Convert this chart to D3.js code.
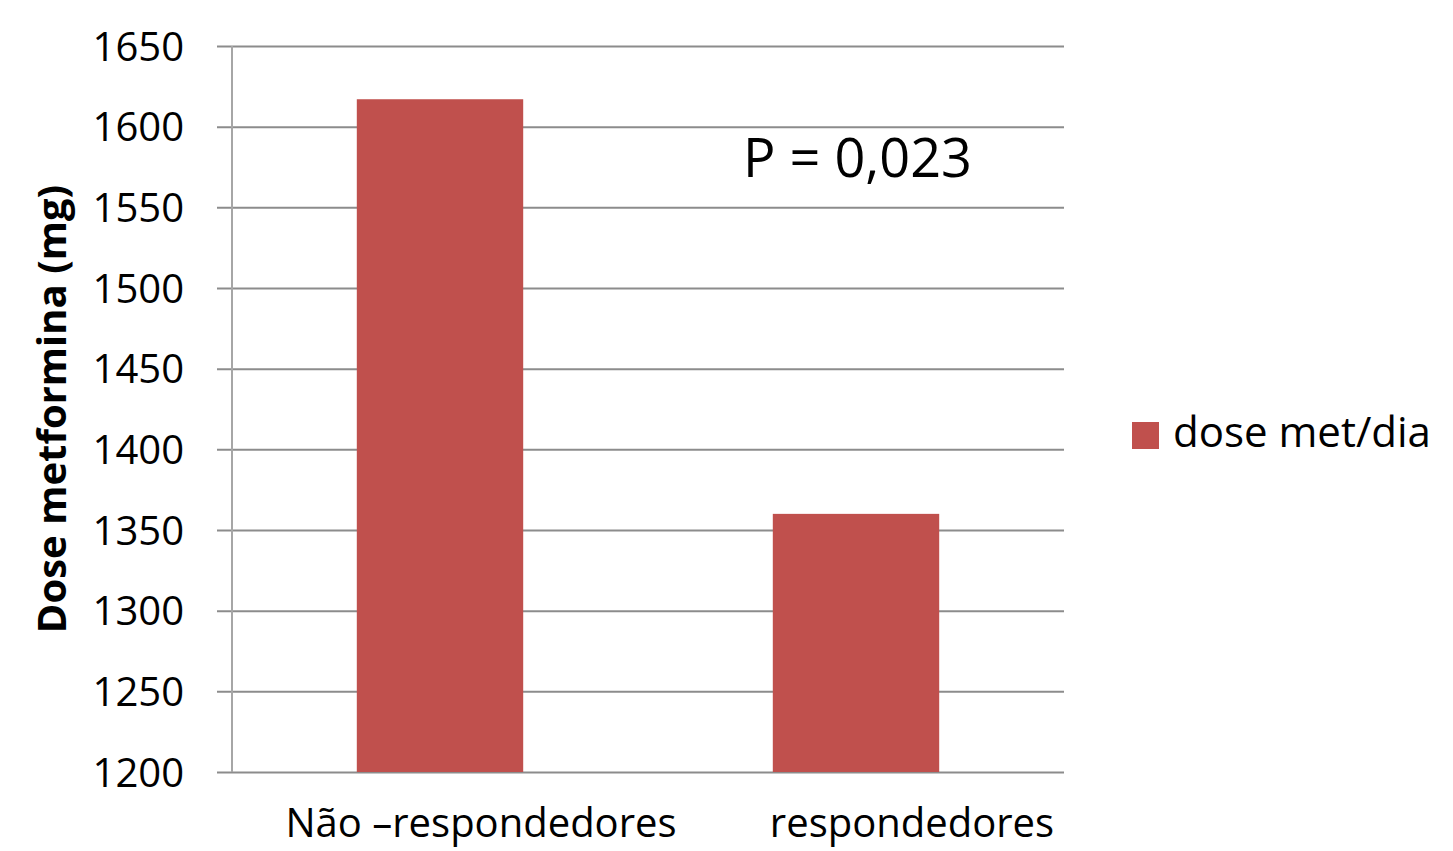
<!DOCTYPE html>
<html>
<head>
<meta charset="utf-8">
<script src="https://cdn.jsdelivr.net/npm/d3@7"></script>
<style>
  html, body { margin: 0; padding: 0; background: #fff; }
  svg { display: block; }
  text { font-family: "Open Sans", "Liberation Sans", sans-serif; fill: #000; }
</style>
</head>
<body>
<svg id="chart" width="1453" height="851"></svg>
<script>
// Daily metformin dose by response group
const categories = ["Não –respondedores", "respondedores"];
const doseValues = [1617, 1360];
const seriesName = "dose met/dia";
const yTicks = [1200, 1250, 1300, 1350, 1400, 1450, 1500, 1550, 1600, 1650];
const yTitle = "Dose metformina (mg)";
const pValueText = "P = 0,023";

const svg = d3.select("#chart");
const margin = { left: 232, right: 389, top: 46, bottom: 79 };
const W = 1453, H = 851;
const x0 = margin.left, x1 = W - margin.right;
const y0 = H - margin.bottom, y1 = margin.top;

const x = d3.scaleBand().domain(categories).range([x0, x1]).paddingInner(0.6).paddingOuter(0.3);
const y = d3.scaleLinear().domain([1200, 1650]).range([y0, y1]);

const barColor = "#C0504D";
const gridColor = "#8c8c8c";

// horizontal gridlines with short ticks left of the axis
const yAxis = d3.axisLeft(y).tickValues(yTicks).tickSize(-(x1 - x0)).tickSizeOuter(0).tickPadding(0).tickFormat(d3.format("d"));
const gy = svg.append("g").attr("transform", `translate(${x0},0)`).call(yAxis);
gy.select(".domain").remove();
gy.selectAll(".tick line").attr("x1", -15).attr("x2", x1 - x0).attr("stroke", gridColor).attr("stroke-width", 2);
gy.selectAll(".tick text").attr("x", -48).attr("dy", "0.35em")
  .style("font-size", "40px").style("font-family", "'Open Sans', sans-serif").attr("fill", "#000");

// vertical axis line
svg.append("line").attr("x1", x0).attr("x2", x0).attr("y1", y1).attr("y2", y0)
  .attr("stroke", "#a6a6a6").attr("stroke-width", 2);

// bars
svg.append("g").selectAll("rect").data(categories).join("rect")
  .attr("x", d => x(d))
  .attr("width", x.bandwidth())
  .attr("y", (d, i) => y(doseValues[i]))
  .attr("height", (d, i) => y0 - y(doseValues[i]))
  .attr("fill", barColor);

// category labels
const labelShift = [41, 56];
const xAxis = d3.axisBottom(x).tickSize(0).tickPadding(0);
const gx = svg.append("g").attr("transform", `translate(0,${y0})`).call(xAxis);
gx.select(".domain").remove();
gx.selectAll(".tick text").attr("y", 0).attr("dy", 65).attr("dx", (d, i) => labelShift[i])
  .style("font-size", "40px").style("font-family", "'Open Sans', sans-serif").attr("fill", "#000");

// y-axis title
svg.append("text")
  .attr("transform", `translate(66,${(186 + 632) / 2}) rotate(-90)`)
  .attr("text-anchor", "middle")
  .style("font-size", "40px").style("font-weight", "bold")
  .text(yTitle);

// significance annotation
svg.append("text").attr("x", 743).attr("y", 177)
  .style("font-size", "54px")
  .text(pValueText);

// legend
const lg = svg.append("g").attr("transform", "translate(1132,422)");
lg.append("rect").attr("width", 27).attr("height", 27).attr("fill", barColor);
lg.append("text").attr("x", 41).attr("y", 25).style("font-size", "42px").text(seriesName);
</script>
</body>
</html>
